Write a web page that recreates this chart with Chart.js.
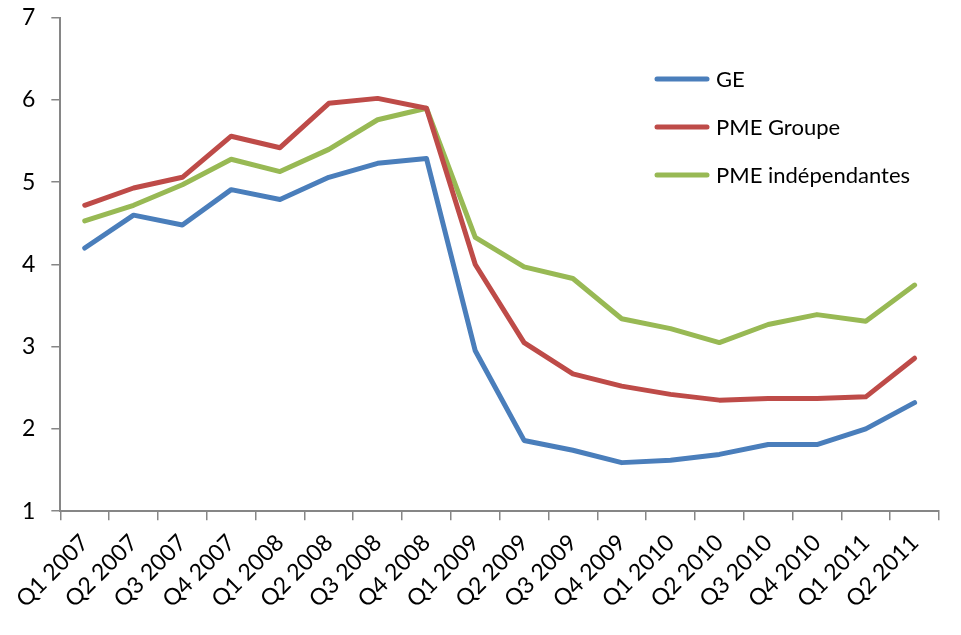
<!DOCTYPE html>
<html>
<head>
<meta charset="utf-8">
<script src="https://cdn.jsdelivr.net/npm/chart.js@4"></script>
<style>
  html, body { margin: 0; padding: 0; background: #fff; overflow: hidden; }
  #wrap { width: 961px; height: 647px; position: absolute; left: 0; top: -12px; }
</style>
</head>
<body>
<div id="wrap"><canvas id="chart"></canvas></div>
<script>
// quarters
var quarters = ["Q1 2007","Q2 2007","Q3 2007","Q4 2007","Q1 2008","Q2 2008","Q3 2008","Q4 2008",
  "Q1 2009","Q2 2009","Q3 2009","Q4 2009","Q1 2010","Q2 2010","Q3 2010","Q4 2010","Q1 2011","Q2 2011"];

var ge = [4.20,4.60,4.48,4.91,4.79,5.06,5.23,5.29,2.95,1.86,1.74,1.59,1.62,1.69,1.81,1.81,2.00,2.32];
var pmeGroupe = [4.72,4.93,5.06,5.56,5.42,5.96,6.02,5.90,4.00,3.05,2.67,2.52,2.42,2.35,2.37,2.37,2.39,2.86];
var pmeIndep = [4.53,4.72,4.97,5.28,5.13,5.40,5.76,5.90,4.33,3.97,3.83,3.34,3.22,3.05,3.27,3.39,3.31,3.75];

var yTicks = [1,2,3,4,5,6,7];

var axisColor = '#868686';
var font = "Lato, 'Open Sans', sans-serif";

// legend drawn inside the plot, like the excel one (canvas is shifted 12px up)
var sideLegend = {
  id: 'sideLegend',
  afterDraw: function(chart) {
    var ctx = chart.ctx;
    ctx.save();
    ctx.font = '22px ' + font;
    ctx.textBaseline = 'middle';
    chart.data.datasets.forEach(function(ds, i) {
      var y = 91 + i * 48;
      ctx.strokeStyle = ds.borderColor;
      ctx.lineWidth = 5;
      ctx.lineCap = 'round';
      ctx.beginPath();
      ctx.moveTo(657, y);
      ctx.lineTo(707, y);
      ctx.stroke();
      ctx.fillStyle = '#000';
      ctx.fillText(ds.label, 716, y + 1);
    });
    ctx.restore();
  }
};

new Chart(document.getElementById("chart"), {
  type: 'line',
  data: {
    labels: quarters,
    datasets: [{
        data: ge,
        label: "GE",
        borderColor: "#4A7EBB"
      }, {
        data: pmeGroupe,
        label: "PME Groupe",
        borderColor: "#BE4B48"
      }, {
        data: pmeIndep,
        label: "PME indépendantes",
        borderColor: "#98B954"
      }
    ]
  },
  options: {
    responsive: true,
    maintainAspectRatio: false,
    animation: false,
    layout: { padding: { left: 6, top: 0, right: 22, bottom: 13 } },
    elements: {
      line: { borderWidth: 5, tension: 0, fill: false, borderJoinStyle: 'round', borderCapStyle: 'round' },
      point: { radius: 0, hoverRadius: 0 }
    },
    plugins: {
      legend: { display: false },
      tooltip: { enabled: false }
    },
    scales: {
      x: {
        offset: true,
        grid: { display: true, offset: true, drawOnChartArea: false, drawTicks: true, tickLength: 9, color: axisColor, lineWidth: 1.5 },
        border: { display: true, color: axisColor, width: 2 },
        ticks: { color: '#000', font: { family: font, size: 23 }, minRotation: 45, maxRotation: 45, padding: 9, autoSkip: false }
      },
      y: {
        min: 1,
        max: 7,
        afterBuildTicks: function(axis) { axis.ticks = yTicks.map(function(v) { return { value: v }; }); },
        grid: { display: true, drawOnChartArea: false, drawTicks: true, tickLength: 9, color: axisColor, lineWidth: 1.5 },
        border: { display: true, color: axisColor, width: 2 },
        ticks: { color: '#000', font: { family: font, size: 23 }, padding: 16 }
      }
    }
  },
  plugins: [sideLegend]
});
</script>
</body>
</html>
